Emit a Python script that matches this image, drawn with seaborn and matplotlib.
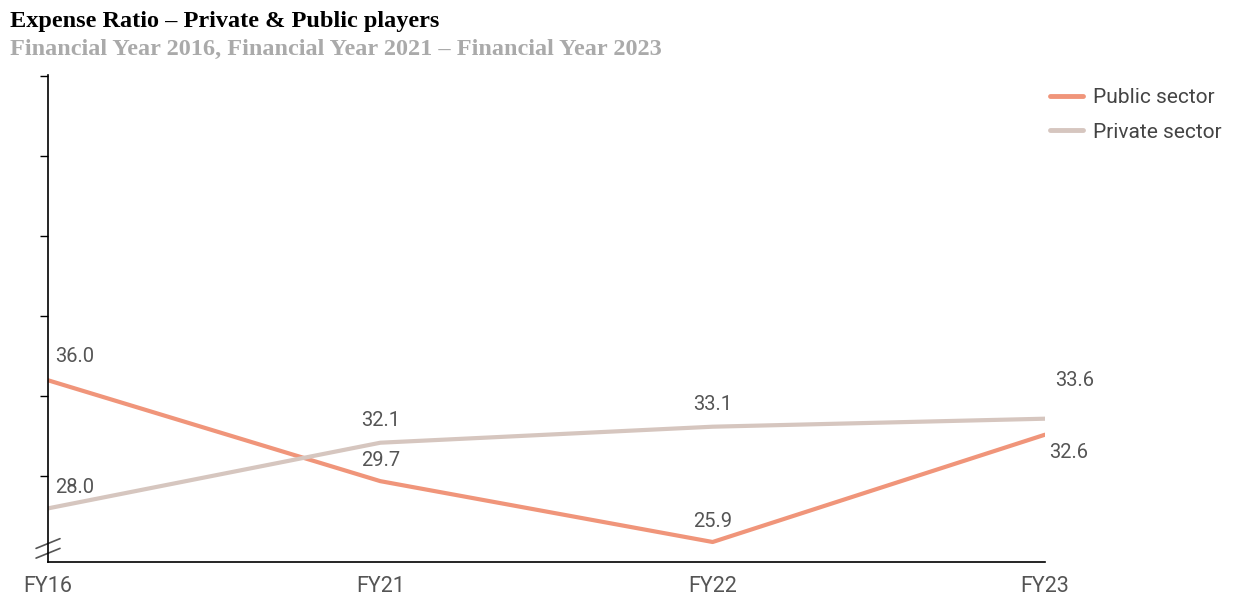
import matplotlib
matplotlib.use("Agg")
import matplotlib.pyplot as plt
import seaborn as sns
import pandas as pd

years = ["FY16", "FY21", "FY22", "FY23"]
public_sector = [36.0, 29.7, 25.9, 32.6]
private_sector = [28.0, 32.1, 33.1, 33.6]
y_ticks = [30, 35, 40, 45, 50, 55]

sns.set_theme(style="white")
plt.rcParams['font.family'] = ['Roboto', 'DejaVu Sans']

df = pd.DataFrame({
    "Year": years * 2,
    "x": list(range(len(years))) * 2,
    "Value": public_sector + private_sector,
    "Sector": ["Public sector"] * 4 + ["Private sector"] * 4,
})

pub_c = "#F0957A"
priv_c = "#D6C6BF"
txt_c = "#555555"

fig = plt.figure(figsize=(12.41, 5.97), dpi=100)
ax = fig.add_axes([0.0387, 0.0586, 0.8033, 0.8154])

sns.lineplot(data=df, x="x", y="Value", hue="Sector",
             palette={"Public sector": pub_c, "Private sector": priv_c},
             linewidth=3.0, ax=ax, legend=True)

ax.set_xlim(0, 3)
ax.set_ylim(24.65, 55.05)
ax.set_xticks(range(len(years)))
ax.set_xticklabels(years, color=txt_c, fontsize=15.5)
ax.set_yticks(y_ticks)
ax.set_yticklabels([])
ax.tick_params(axis="y", direction="out", length=6, width=1, color="black", left=True)
ax.tick_params(axis="x", length=0, pad=10)
ax.set_xlabel("")
ax.set_ylabel("")
for s in ["top", "right"]:
    ax.spines[s].set_visible(False)
for s in ["left", "bottom"]:
    ax.spines[s].set_color("black")
    ax.spines[s].set_linewidth(1.2)

# data labels
pub_offsets = [(0.08, 1.5), (0, 1.3), (0, 1.3), (0.07, -1.1)]
priv_offsets = [(0.08, 1.3), (0, 1.4), (0, 1.4), (0.09, 2.4)]
for i, v in enumerate(public_sector):
    dx, dy = pub_offsets[i]
    ax.text(i + dx, v + dy, f"{v:.1f}", ha="center", va="center", fontsize=14.5,
            color=txt_c)
for i, v in enumerate(private_sector):
    dx, dy = priv_offsets[i]
    ax.text(i + dx, v + dy, f"{v:.1f}", ha="center", va="center", fontsize=14.5,
            color=txt_c)

# axis break marks
for yy in [0.018, 0.038]:
    ax.plot([-0.012, 0.012], [yy - 0.01, yy + 0.01], transform=ax.transAxes,
            color="#555555", lw=1.2, clip_on=False)

leg = ax.legend(loc="upper left", bbox_to_anchor=(0.986, 1.012), frameon=False,
                prop={"size": 15}, handlelength=1.6,
                handletextpad=0.5, labelspacing=0.75)
for t in leg.get_texts():
    t.set_color("#444444")
for l in leg.get_lines():
    l.set_linewidth(3.5)

fig.text(0.008, 0.964, "Expense Ratio \u2013 Private & Public players", fontsize=17.5,
         fontweight="bold", family=["Liberation Serif", "DejaVu Serif"], color="black", va="center")
fig.text(0.008, 0.918, "Financial Year 2016, Financial Year 2021 \u2013 Financial Year 2023", fontsize=17.5,
         fontweight="bold", family=["Liberation Serif", "DejaVu Serif"], color="#AAAAAA", va="center")

fig.savefig("out.png", dpi=100)
